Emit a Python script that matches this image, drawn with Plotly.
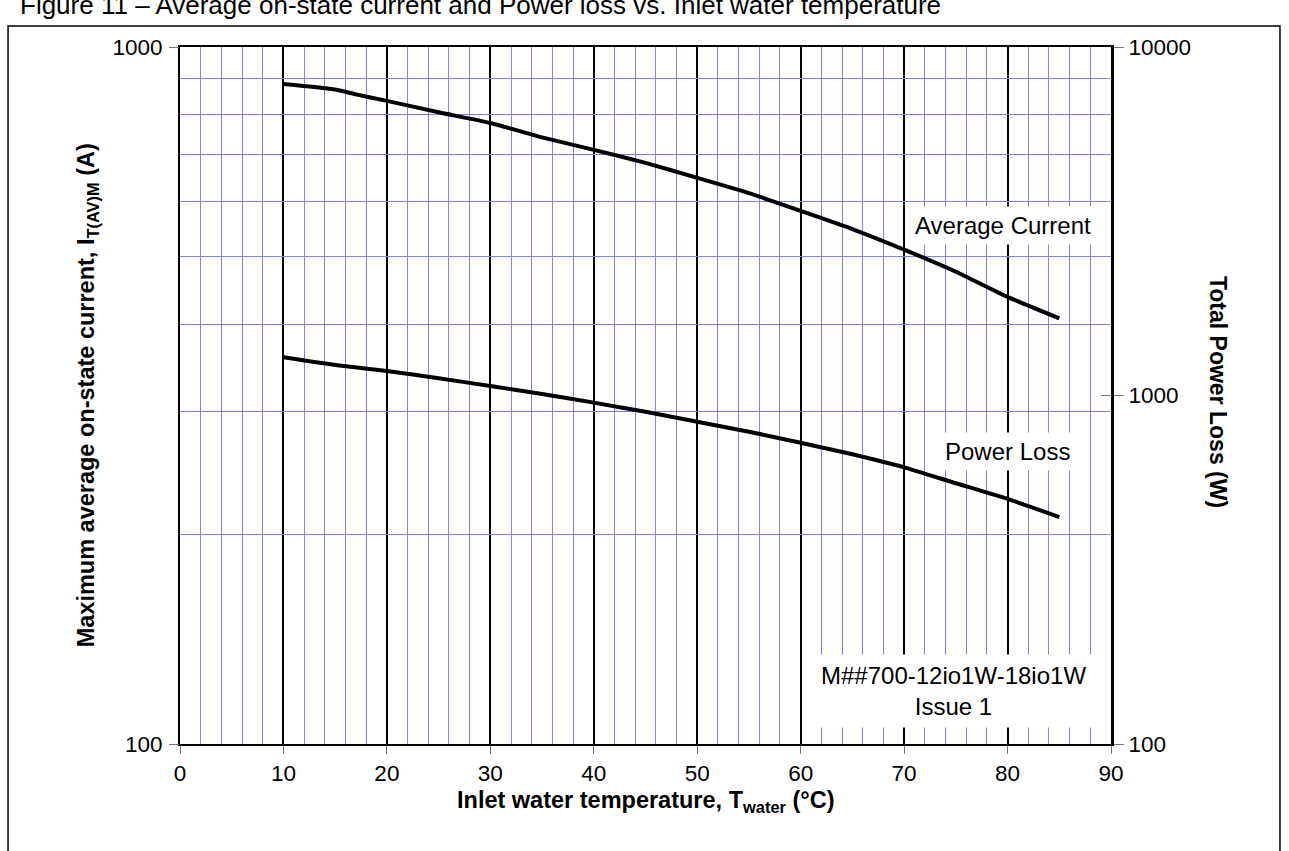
import math
import plotly.graph_objects as go

# ---- data ----
temps_current = [10, 15, 17, 20, 25, 30, 35, 40, 45, 50, 55, 60, 65, 70, 75, 80, 85]
avg_current = [885, 869, 855, 837, 806, 778, 742, 712, 682, 649, 617, 582, 548, 512, 476, 438, 408]

temps_power = [10, 15, 20, 25, 30, 35, 40, 45, 50, 55, 60, 65, 70, 75, 80, 85]
power_loss = [1287, 1223, 1176, 1120, 1065, 1010, 954, 898, 841, 787, 732, 678, 622, 560, 505, 448]

x_ticks = [0, 10, 20, 30, 40, 50, 60, 70, 80, 90]
left_ticks = [100, 1000]
left_grid = [100, 200, 300, 400, 500, 600, 700, 800, 900, 1000]
right_ticks = [100, 1000, 10000]

FONT = "Liberation Sans, Arial, sans-serif"
BLUE = "#7f7fff"

fig = go.Figure()
fig.add_trace(go.Scatter(x=temps_current, y=avg_current, mode="lines",
                         line=dict(color="black", width=4, shape="spline", smoothing=0.5),
                         yaxis="y", hoverinfo="skip"))
fig.add_trace(go.Scatter(x=temps_power, y=power_loss, mode="lines",
                         line=dict(color="black", width=4, shape="spline", smoothing=0.5),
                         yaxis="y2", hoverinfo="skip"))

fig.update_layout(
    width=1289, height=851,
    margin=dict(l=180, r=178, t=47, b=107),
    paper_bgcolor="white", plot_bgcolor="white",
    showlegend=False,
    font=dict(family=FONT, size=22, color="black"),
    xaxis=dict(
        range=[0, 90], tickmode="array", tickvals=x_ticks,
        ticks="outside", ticklen=8, tickcolor="#777", tickwidth=1,
        showgrid=True, gridcolor="black", gridwidth=2,
        minor=dict(dtick=2, tick0=0, showgrid=True, gridcolor=BLUE, gridwidth=1, ticks=""),
        showline=True, linecolor="black", linewidth=2, mirror=True,
        zeroline=False, tickfont=dict(size=22.5),
    ),
    # left (current) scale: labels at 100 / 1000, blue grid every 100 A
    yaxis=dict(
        type="log", range=[2, 3], tickmode="array", tickvals=left_grid,
        ticktext=[str(v) if v in left_ticks else "" for v in left_grid],
        ticks="outside", ticklen=11, tickcolor="rgba(0,0,0,0)",
        showgrid=True, gridcolor=BLUE, gridwidth=1,
        showline=True, linecolor="black", linewidth=2,
        zeroline=False, tickfont=dict(size=22.5),
    ),
    yaxis2=dict(
        type="log", range=[2, 4], overlaying="y", side="right",
        tickmode="array", tickvals=right_ticks, ticktext=[str(v) for v in right_ticks],
        ticks="outside", ticklen=10, tickcolor="#777", tickwidth=1,
        showgrid=False, showline=True, linecolor="black", linewidth=3,
        zeroline=False, tickfont=dict(size=22.5),
    ),
    # tick marks at 100 / 1000 A on the left axis
    yaxis3=dict(
        type="log", range=[2, 3], overlaying="y", side="left",
        tickmode="array", tickvals=left_ticks, showticklabels=False,
        ticks="outside", ticklen=10, tickcolor="#777", tickwidth=1,
        showgrid=False, showline=False, zeroline=False,
    ),
    # the crossing tick at 1000 W on the right axis
    yaxis4=dict(
        type="log", range=[2, 4], overlaying="y", side="right",
        tickmode="array", tickvals=[1000], showticklabels=False,
        ticks="inside", ticklen=10, tickcolor="#777", tickwidth=1,
        showgrid=False, showline=False, zeroline=False,
    ),
)

# invisible traces so the helper axes get drawn
fig.add_trace(go.Scatter(x=[None], y=[None], yaxis="y3", showlegend=False, hoverinfo="skip"))
fig.add_trace(go.Scatter(x=[None], y=[None], yaxis="y4", showlegend=False, hoverinfo="skip"))

annos = [
    dict(text="Figure 11 – Average on-state current and Power loss vs. Inlet water temperature",
         xref="paper", yref="paper", x=-0.174, y=1.0603, xanchor="left", yanchor="middle",
         showarrow=False, font=dict(size=26)),
    dict(text="<b>Maximum average on-state current, I<sub>T(AV)M</sub> (A)</b>",
         xref="paper", yref="paper", x=-0.099, y=0.5, textangle=-90,
         xanchor="center", yanchor="middle", showarrow=False, font=dict(size=23.5)),
    dict(text="<b>Total Power Loss (W)</b>",
         xref="paper", yref="paper", x=1.115, y=0.505, textangle=90,
         xanchor="center", yanchor="middle", showarrow=False, font=dict(size=23)),
    dict(text="<b>Inlet water temperature, T<sub>water</sub> (°C)</b>",
         xref="paper", yref="paper", x=0.5, y=-0.082,
         xanchor="center", yanchor="middle", showarrow=False, font=dict(size=23.5)),
    dict(text="Average Current", xref="x", yref="y", x=79.6, y=math.log10(555),
         xanchor="center", yanchor="middle", showarrow=False, font=dict(size=24),
         bgcolor="white", borderpad=5),
    dict(text="Power Loss", xref="x", yref="y2", x=80, y=math.log10(690),
         xanchor="center", yanchor="middle", showarrow=False, font=dict(size=24),
         bgcolor="white", borderpad=5),
    dict(text="M##700-12io1W-18io1W<br>Issue 1", xref="x", yref="y", x=74.8, y=math.log10(119),
         xanchor="center", yanchor="middle", showarrow=False, font=dict(size=24),
         align="center", bgcolor="white", borderpad=7),
]
fig.update_layout(annotations=annos)

fig.add_shape(type="rect", xref="paper", yref="paper",
              x0=-0.1847, x1=1.1815, y0=-0.25, y1=1.0301,
              line=dict(color="black", width=1.5), fillcolor="rgba(0,0,0,0)", layer="above")

fig.write_html("out.html")
